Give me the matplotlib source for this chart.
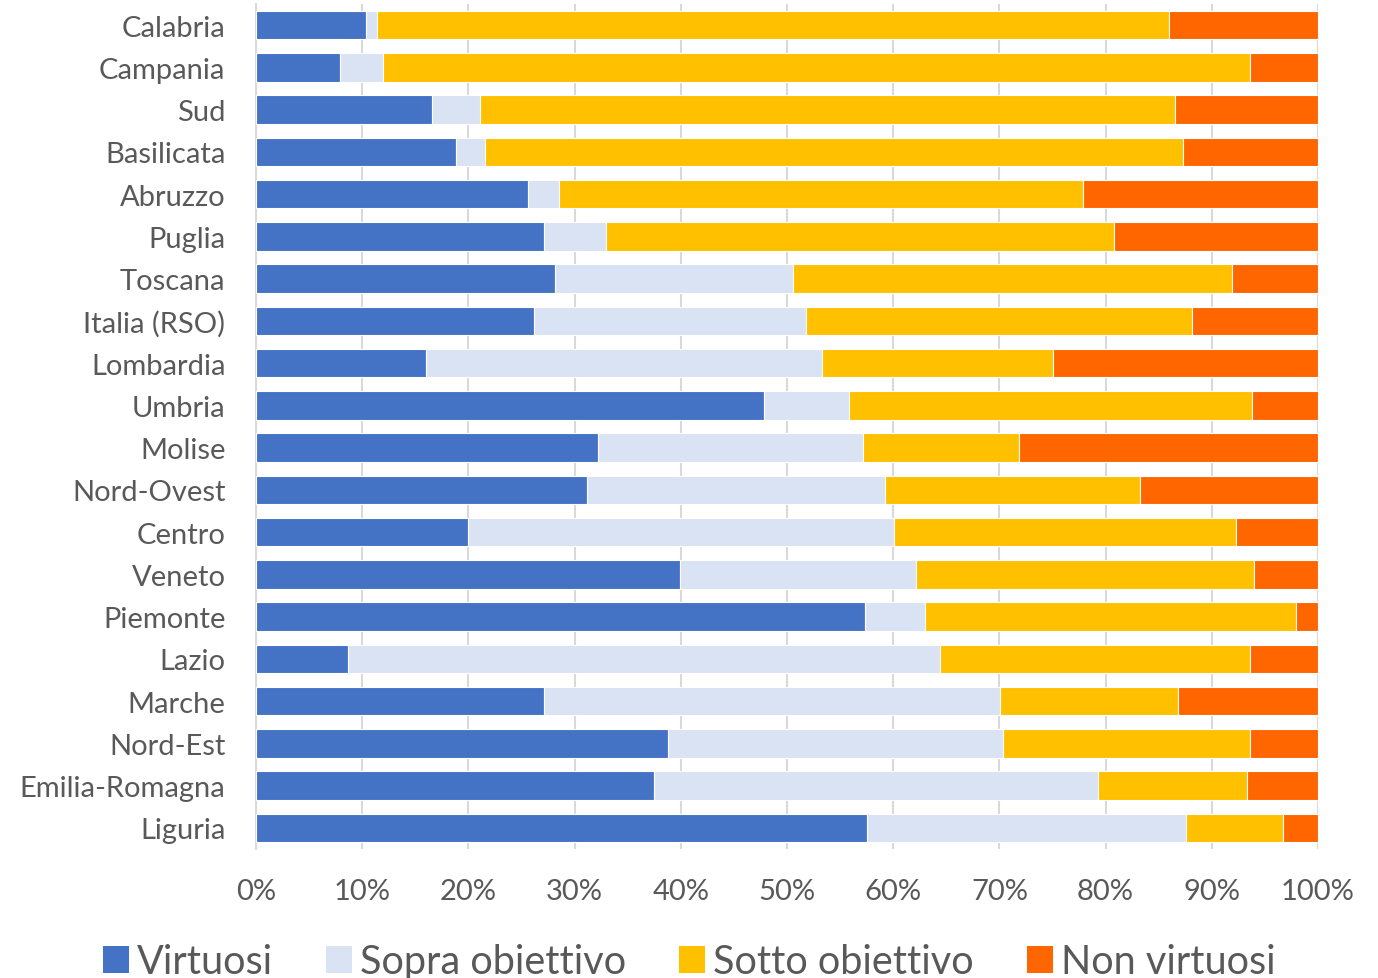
import matplotlib
matplotlib.use("Agg")
import matplotlib.pyplot as plt
from matplotlib.patches import Patch

# dati (quote percentuali)
regioni = ["Calabria", "Campania", "Sud", "Basilicata", "Abruzzo", "Puglia", "Toscana",
           "Italia (RSO)", "Lombardia", "Umbria", "Molise", "Nord-Ovest", "Centro", "Veneto",
           "Piemonte", "Lazio", "Marche", "Nord-Est", "Emilia-Romagna", "Liguria"]
virtuosi = [10.4, 7.9, 16.6, 18.8, 25.6, 27.1, 28.2, 26.2, 16.0, 47.8,
            32.2, 31.2, 20.0, 39.9, 57.3, 8.7, 27.1, 38.8, 37.5, 57.5]
sopra = [1.0, 4.1, 4.5, 2.8, 2.9, 5.9, 22.4, 25.6, 37.3, 8.0,
         25.0, 28.0, 40.1, 22.2, 5.7, 55.7, 43.0, 31.5, 41.8, 30.1]
sotto = [74.6, 81.6, 65.4, 65.7, 49.4, 47.8, 41.3, 36.3, 21.7, 38.0,
         14.6, 24.0, 32.2, 31.9, 34.9, 29.2, 16.7, 23.3, 14.0, 9.1]
non_virtuosi = [100 - a - b - c for a, b, c in zip(virtuosi, sopra, sotto)]

serie = ["Virtuosi", "Sopra obiettivo", "Sotto obiettivo", "Non virtuosi"]
colori = ["#4472C4", "#DAE3F3", "#FFC000", "#FF6600"]
grigio = "#595959"

plt.rcParams["font.family"] = ["Lato", "DejaVu Sans"]

fig = plt.figure(figsize=(13.78, 9.79), dpi=100)
ax = fig.add_axes([256 / 1378, 1 - 850 / 979, 1062 / 1378, 845 / 979])

y = list(range(len(regioni)))
left = [0.0] * len(regioni)
for nome, valori, col in zip(serie, [virtuosi, sopra, sotto, non_virtuosi], colori):
    ax.barh(y, valori, left=left, height=0.67, color=col, edgecolor="white",
            linewidth=0.8, label=nome, zorder=3)
    left = [l + v for l, v in zip(left, valori)]

ax.set_xlim(0, 100)
ax.set_ylim(len(regioni) - 0.5, -0.5)
ax.set_yticks(y)
ax.set_yticklabels(regioni, fontsize=21, color=grigio)
ax.set_xticks(range(0, 101, 10))
ax.set_xticklabels([f"{v}%" for v in range(0, 101, 10)], fontsize=21, color=grigio)
ax.tick_params(axis="y", length=0, pad=22)
ax.tick_params(axis="x", length=0, pad=21)
ax.grid(axis="x", color="#D9D9D9", linewidth=1.5, zorder=0)
for s in ["top", "right", "bottom"]:
    ax.spines[s].set_visible(False)
ax.spines["left"].set_color("#D9D9D9")
ax.spines["left"].set_linewidth(1.5)

handles = [Patch(facecolor=c, edgecolor="none") for c in colori]
fig.legend(handles, serie, loc="center", bbox_to_anchor=(0.5, 1 - 963 / 979), ncol=4,
           frameon=False, fontsize=28.5, labelcolor=grigio, handlelength=0.65,
           handleheight=0.65, handletextpad=0.2, columnspacing=1.35)

fig.savefig("out.png", dpi=100)
